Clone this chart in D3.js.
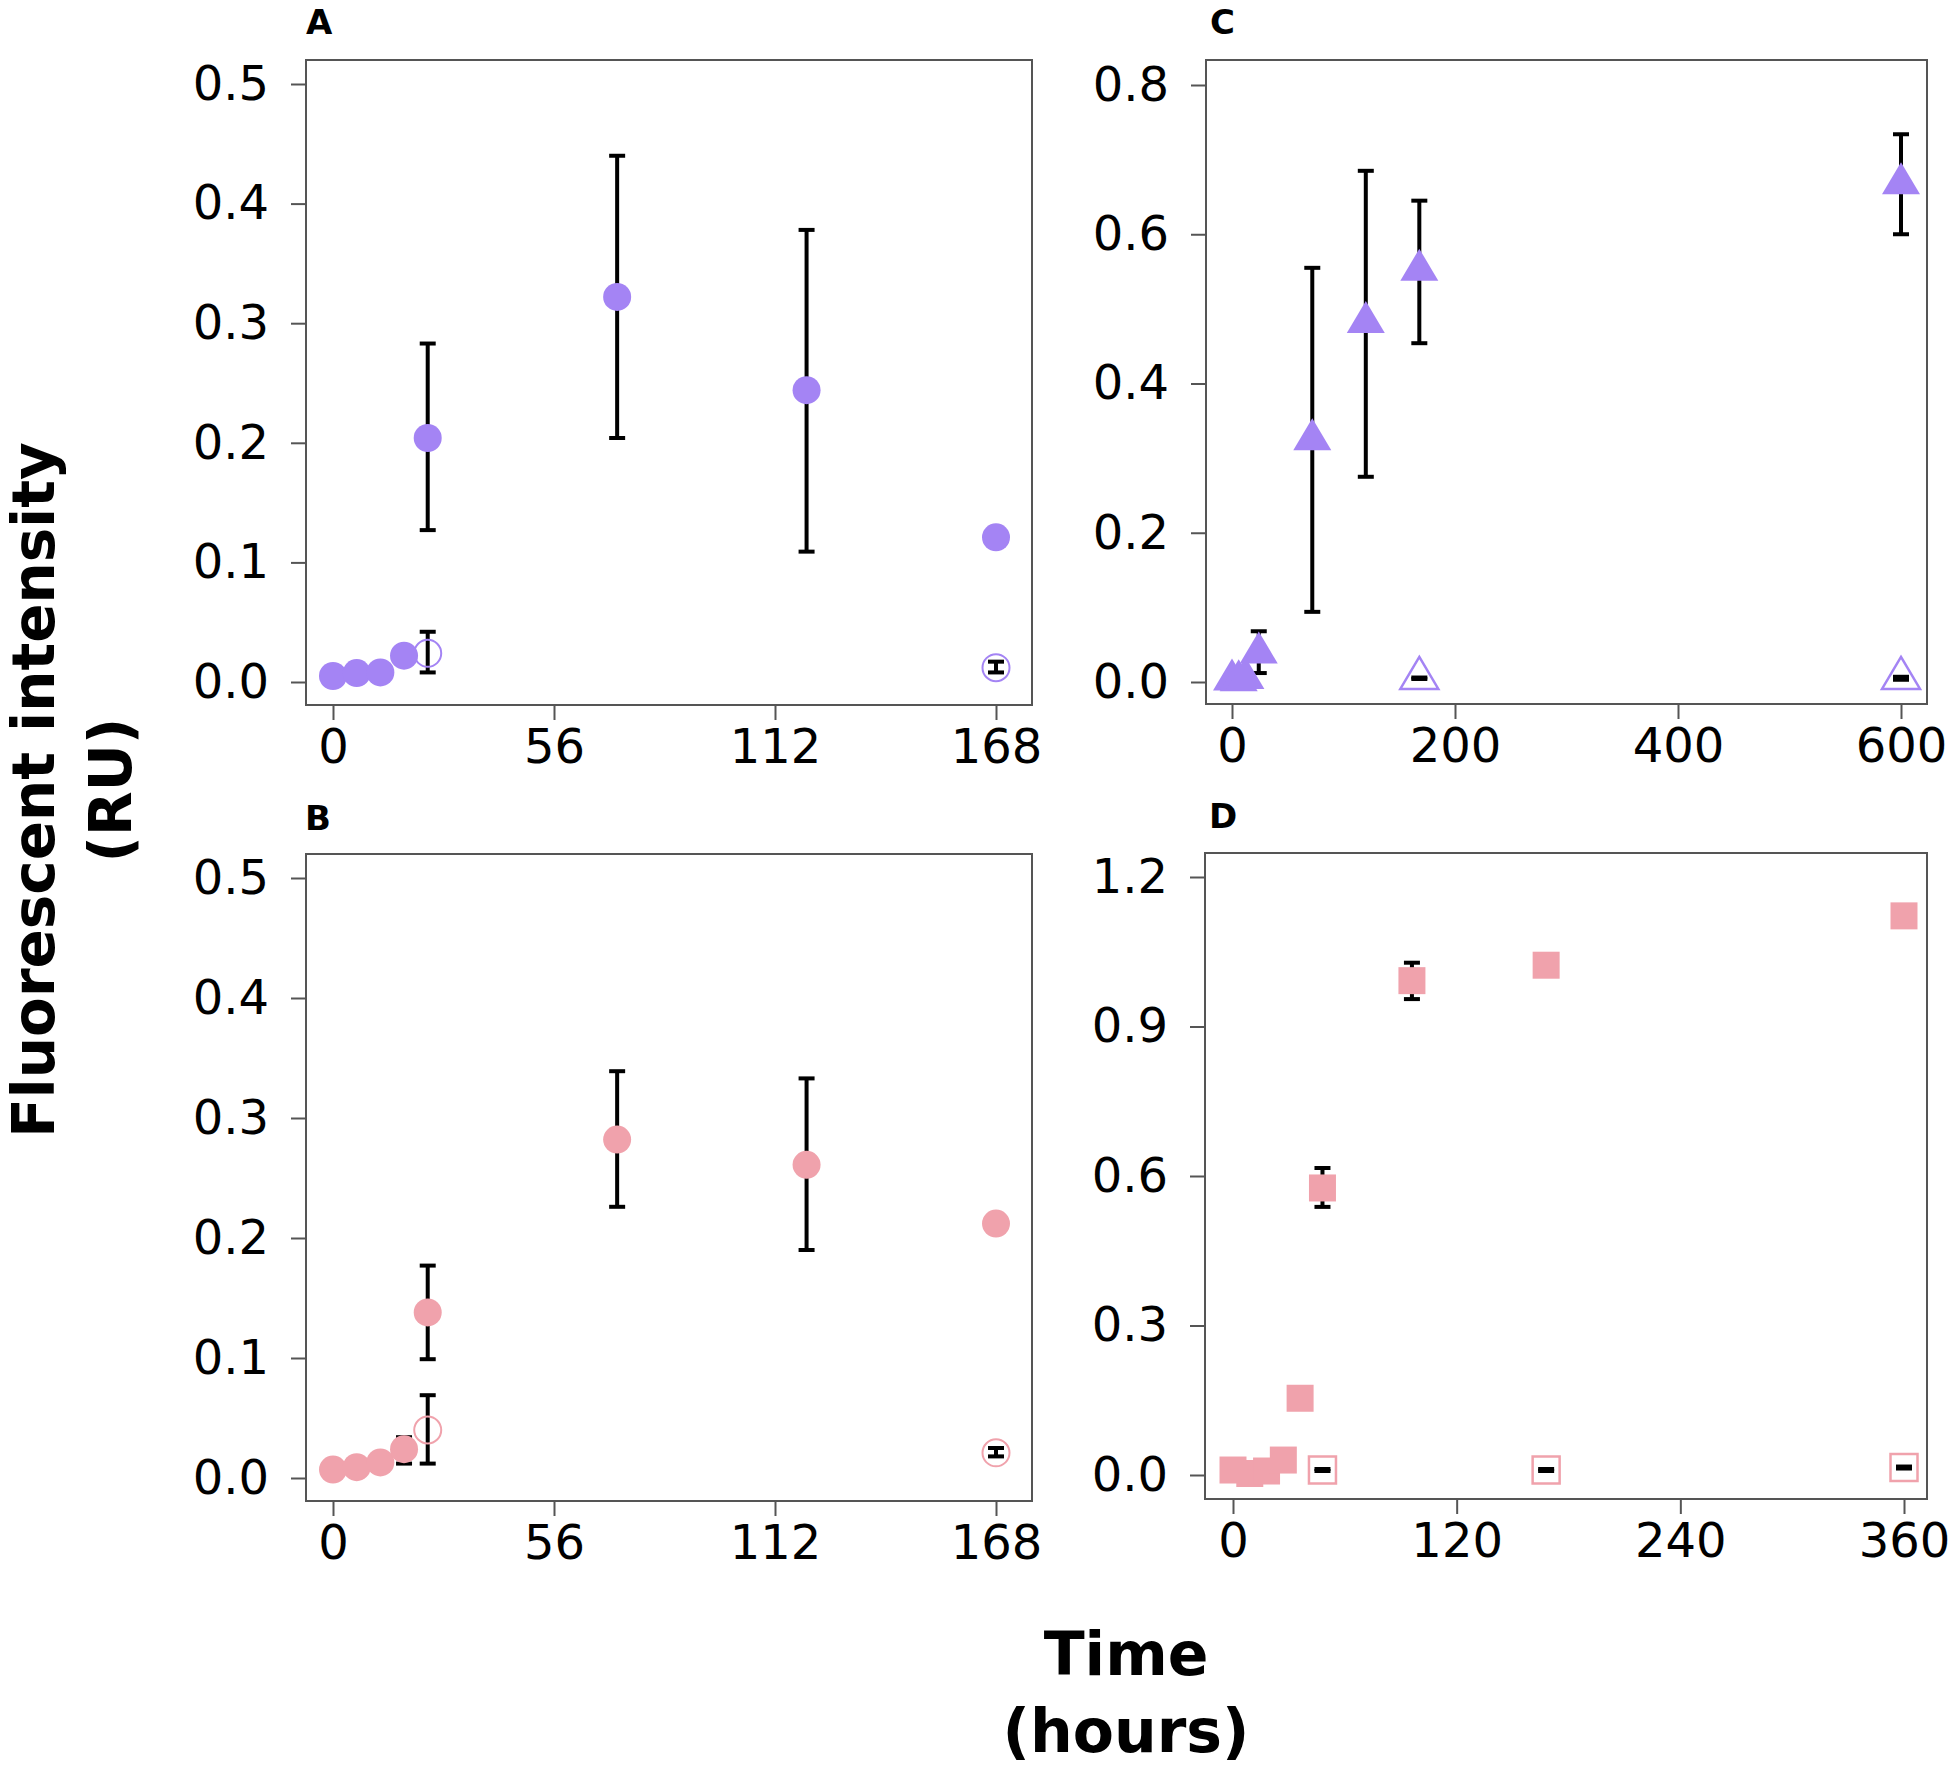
<!DOCTYPE html>
<html>
<head>
<meta charset="utf-8">
<script src="https://cdn.jsdelivr.net/npm/d3@7/dist/d3.min.js"></script>
<style>
  html, body { margin: 0; padding: 0; background: #fff; }
  svg { display: block; }
  text { font-family: "DejaVu Sans", Verdana, sans-serif; }
</style>
</head>
<body>
<svg id="chart" width="1950" height="1770"></svg>
<script>
// ---------- data ----------
// Panel A (purple circles)
const timesA = [0, 6, 12, 18, 24, 72, 120, 168];
const meanA  = [0.005, 0.0075, 0.008, 0.022, 0.204, 0.322, 0.244, 0.121];
const lowA   = [null, null, null, null, 0.127, 0.204, 0.109, null];
const highA  = [null, null, null, null, 0.283, 0.440, 0.378, null];
const ctrlTimesA = [24, 168];
const ctrlMeanA  = [0.024, 0.012];
const ctrlLowA   = [0.008, 0.008];
const ctrlHighA  = [0.042, 0.017];

// Panel B (pink circles)
const timesB = [0, 6, 12, 18, 24, 72, 120, 168];
const meanB  = [0.007, 0.009, 0.013, 0.024, 0.138, 0.282, 0.261, 0.212];
const lowB   = [null, null, null, 0.012, 0.099, 0.226, 0.190, null];
const highB  = [null, null, null, 0.034, 0.177, 0.339, 0.333, null];
const ctrlTimesB = [24, 168];
const ctrlMeanB  = [0.040, 0.021];
const ctrlLowB   = [0.012, 0.018];
const ctrlHighB  = [0.069, 0.025];

// Panel C (purple triangles)
const timesC = [0, 6, 12, 24, 72, 120, 168, 600];
const meanC  = [0.003, 0.002, 0.005, 0.039, 0.325, 0.482, 0.552, 0.668];
const lowC   = [null, null, null, 0.012, 0.094, 0.275, 0.454, 0.600];
const highC  = [null, null, null, 0.068, 0.555, 0.685, 0.645, 0.734];
const ctrlTimesC = [168, 600];
const ctrlMeanC  = [0.005, 0.005];
const ctrlLowC   = [0.004, 0.003];
const ctrlHighC  = [0.006, 0.007];

// Panel D (pink squares)
const timesD = [0, 9, 18, 27, 36, 48, 96, 168, 360];
const meanD  = [0.010, 0.003, 0.008, 0.030, 0.154, 0.576, 0.992, 1.023, 1.122];
const lowD   = [null, null, null, null, null, 0.538, 0.955, null, null];
const highD  = [null, null, null, null, null, 0.616, 1.028, null, null];
const ctrlTimesD = [48, 168, 360];
const ctrlMeanD  = [0.010, 0.010, 0.015];
const ctrlLowD   = [0.008, 0.008, 0.013];
const ctrlHighD  = [0.012, 0.012, 0.017];

// tick labels
const xTicksAB = [0, 56, 112, 168];
const xTicksC  = [0, 200, 400, 600];
const xTicksD  = [0, 120, 240, 360];
const yTicksAB = [0, 0.1, 0.2, 0.3, 0.4, 0.5];
const yTicksC  = [0, 0.2, 0.4, 0.6, 0.8];
const yTicksD  = [0, 0.3, 0.6, 0.9, 1.2];

const panelLabels = ["A", "B", "C", "D"];
const xTitle = ["Time", "(hours)"];
const yTitle = ["Fluorescent intensity", "(RU)"];

// ---------- styling ----------
const PURPLE = "#a484f4";
const PINK = "#f0a2ac";
const FRAME = "#555";

const svg = d3.select("#chart");

function rows(t, m, lo, hi) {
  return t.map((d, i) => ({ t: d, v: m[i], lo: lo[i], hi: hi[i] }));
}

const panels = [
  { label: panelLabels[0], box: [306, 60, 1032, 705], xr: [333, 996], yr: [682, 84],
    xd: [0, 168], yd: [0, 0.5], xt: xTicksAB, yt: yTicksAB, color: PURPLE, shape: "circle",
    data: rows(timesA, meanA, lowA, highA), ctrl: rows(ctrlTimesA, ctrlMeanA, ctrlLowA, ctrlHighA),
    lab: [306, 34] },
  { label: panelLabels[1], box: [306, 854, 1032, 1501], xr: [333, 996], yr: [1478, 878],
    xd: [0, 168], yd: [0, 0.5], xt: xTicksAB, yt: yTicksAB, color: PINK, shape: "circle",
    data: rows(timesB, meanB, lowB, highB), ctrl: rows(ctrlTimesB, ctrlMeanB, ctrlLowB, ctrlHighB),
    lab: [305, 830] },
  { label: panelLabels[2], box: [1206, 60, 1927, 704], xr: [1232, 1901], yr: [682, 85],
    xd: [0, 600], yd: [0, 0.8], xt: xTicksC, yt: yTicksC, color: PURPLE, shape: "triangle",
    data: rows(timesC, meanC, lowC, highC), ctrl: rows(ctrlTimesC, ctrlMeanC, ctrlLowC, ctrlHighC),
    lab: [1210, 34] },
  { label: panelLabels[3], box: [1205, 853, 1927, 1499], xr: [1233, 1904], yr: [1475, 877],
    xd: [0, 360], yd: [0, 1.2], xt: xTicksD, yt: yTicksD, color: PINK, shape: "square",
    data: rows(timesD, meanD, lowD, highD), ctrl: rows(ctrlTimesD, ctrlMeanD, ctrlLowD, ctrlHighD),
    lab: [1209, 828] }
];

const CIRCLE_R = 14;
const TRI_W = 38, TRI_H = 32;
const SQ = 27;
const CAP = 16;

function markerPath(shape, x, y) {
  if (shape === "triangle") {
    const top = y - TRI_H * 2 / 3, base = y + TRI_H / 3;
    return `M${x},${top}L${x + TRI_W / 2},${base}L${x - TRI_W / 2},${base}Z`;
  }
  if (shape === "square") {
    return `M${x - SQ / 2},${y - SQ / 2}h${SQ}v${SQ}h${-SQ}Z`;
  }
  return null;
}

panels.forEach(p => {
  const g = svg.append("g");
  const x = d3.scaleLinear().domain(p.xd).range(p.xr);
  const y = d3.scaleLinear().domain(p.yd).range(p.yr);
  const [bx0, by0, bx1, by1] = p.box;

  // panel letter
  g.append("text").attr("x", p.lab[0]).attr("y", p.lab[1])
    .attr("font-size", 34).attr("font-weight", "bold").text(p.label);

  // frame
  g.append("rect").attr("x", bx0).attr("y", by0)
    .attr("width", bx1 - bx0).attr("height", by1 - by0)
    .attr("fill", "none").attr("stroke", FRAME).attr("stroke-width", 2);

  // y axis
  const yAxis = d3.axisLeft(y).tickValues(p.yt).tickSize(15).tickPadding(22)
    .tickFormat(d3.format(".1f"));
  const ya = g.append("g").attr("transform", `translate(${bx0},0)`).call(yAxis);
  ya.select(".domain").remove();
  ya.selectAll(".tick line").attr("stroke", FRAME).attr("stroke-width", 2);
  ya.selectAll(".tick text").attr("font-size", 48).attr("fill", "#000")
    .attr("font-family", "DejaVu Sans, Verdana, sans-serif");

  // x axis
  const xAxis = d3.axisBottom(x).tickValues(p.xt).tickSize(15).tickPadding(9)
    .tickFormat(d3.format("d"));
  const xa = g.append("g").attr("transform", `translate(0,${by1})`).call(xAxis);
  xa.select(".domain").remove();
  xa.selectAll(".tick line").attr("stroke", FRAME).attr("stroke-width", 2);
  xa.selectAll(".tick text").attr("font-size", 48).attr("fill", "#000")
    .attr("font-family", "DejaVu Sans, Verdana, sans-serif");

  // error bars
  const all = p.data.filter(d => d.lo != null).concat(p.ctrl);
  const eb = g.append("g").attr("stroke", "#000").attr("stroke-width", 4).attr("fill", "none");
  all.forEach(d => {
    const cx = x(d.t);
    eb.append("line").attr("x1", cx).attr("x2", cx).attr("y1", y(d.lo)).attr("y2", y(d.hi));
    eb.append("line").attr("x1", cx - CAP / 2).attr("x2", cx + CAP / 2).attr("y1", y(d.lo)).attr("y2", y(d.lo));
    eb.append("line").attr("x1", cx - CAP / 2).attr("x2", cx + CAP / 2).attr("y1", y(d.hi)).attr("y2", y(d.hi));
  });

  // open (control) markers
  const og = g.append("g");
  p.ctrl.forEach(d => {
    if (p.shape === "circle") {
      og.append("circle").attr("cx", x(d.t)).attr("cy", y(d.v)).attr("r", CIRCLE_R - 0.5)
        .attr("fill", "none").attr("stroke", p.color).attr("stroke-width", 2);
    } else {
      og.append("path").attr("d", markerPath(p.shape, x(d.t), y(d.v)))
        .attr("fill", "none").attr("stroke", p.color).attr("stroke-width", 2.5);
    }
  });

  // filled markers
  const fg = g.append("g");
  p.data.forEach(d => {
    if (p.shape === "circle") {
      fg.append("circle").attr("cx", x(d.t)).attr("cy", y(d.v)).attr("r", CIRCLE_R)
        .attr("fill", p.color);
    } else {
      fg.append("path").attr("d", markerPath(p.shape, x(d.t), y(d.v))).attr("fill", p.color);
    }
  });
});

// shared axis titles
svg.append("text").attr("x", 1126).attr("y", 1675).attr("text-anchor", "middle")
  .attr("font-size", 60).attr("font-weight", "bold").text(xTitle[0]);
svg.append("text").attr("x", 1126).attr("y", 1752).attr("text-anchor", "middle")
  .attr("font-size", 60).attr("font-weight", "bold").text(xTitle[1]);

svg.append("text").attr("transform", "translate(54,790) rotate(-90)").attr("text-anchor", "middle")
  .attr("font-size", 58).attr("font-weight", "bold").text(yTitle[0]);
svg.append("text").attr("transform", "translate(131,790) rotate(-90)").attr("text-anchor", "middle")
  .attr("font-size", 58).attr("font-weight", "bold").text(yTitle[1]);
</script>
</body>
</html>
